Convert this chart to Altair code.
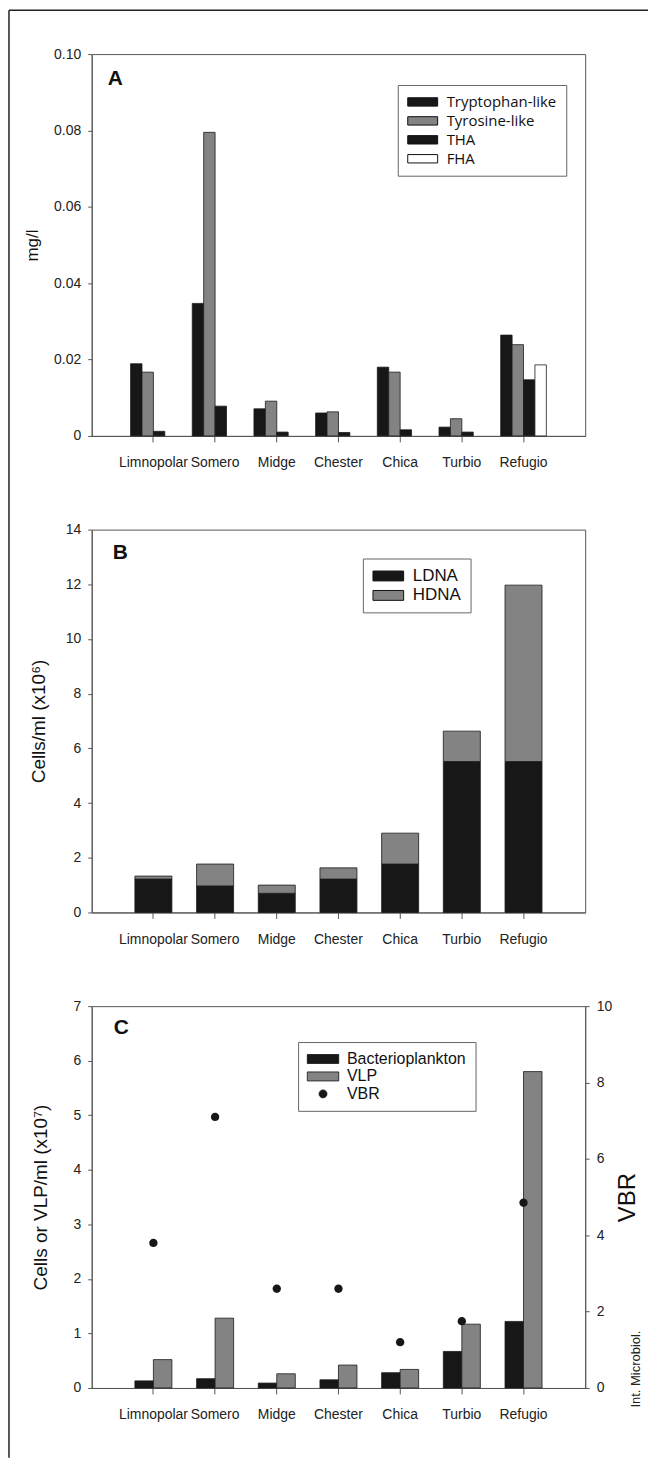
import altair as alt
import pandas as pd

# ---------------- data ----------------
sites = ["Limnopolar", "Somero", "Midge", "Chester", "Chica", "Turbio", "Refugio"]

# Panel A (mg/l)
a_series = ["Tryptophan-like", "Tyrosine-like", "THA", "FHA"]
tryptophan = [0.0189, 0.0347, 0.0071, 0.0060, 0.0180, 0.0023, 0.0264]
tyrosine = [0.0167, 0.0795, 0.0091, 0.0063, 0.0167, 0.0045, 0.0239]
tha = [0.0012, 0.0078, 0.0010, 0.0009, 0.0016, 0.0010, 0.0147]
fha = [0.0, 0.0, 0.0, 0.0, 0.0, 0.0, 0.0186]

# Panel B (cells/ml x10^6), stacked
b_series = ["LDNA", "HDNA"]
ldna = [1.22, 0.97, 0.70, 1.22, 1.77, 5.52, 5.52]
hdna = [0.11, 0.80, 0.30, 0.41, 1.13, 1.11, 6.45]

# Panel C (cells or VLP/ml x10^7) and VBR
c_series = ["Bacterioplankton", "VLP", "VBR"]
bacterio = [0.13, 0.17, 0.09, 0.15, 0.28, 0.67, 1.22]
vlp = [0.52, 1.28, 0.26, 0.42, 0.34, 1.17, 5.80]
vbr = [3.8, 7.1, 2.6, 2.6, 1.2, 1.75, 4.85]

# ---------------- tables ----------------
dfA = pd.DataFrame({
    "site": sites * 4,
    "series": [s for s in a_series for _ in sites],
    "value": tryptophan + tyrosine + tha + fha,
})
dfB = pd.DataFrame({
    "site": sites * 2,
    "series": [s for s in b_series for _ in sites],
    "ord": [i for i in range(2) for _ in sites],
    "value": ldna + hdna,
})
dfC = pd.DataFrame({
    "site": sites * 2,
    "series": [s for s in c_series[:2] for _ in sites],
    "value": bacterio + vlp,
})
dfV = pd.DataFrame({"site": sites, "series": ["VBR"] * len(sites), "vbr": vbr})

# ---------------- style ----------------
W, HA, HB, HC = 495, 383, 384, 383
BLACK = "#171717"
GRAY = "#838383"
EDGE = "#1c1c1c"
FONT_AX = "Liberation Sans, Arial, sans-serif"
FONT_T = "Liberation Sans, Arial, sans-serif"
SYM = 225  # legend symbol size (sqrt = 15 px per 2 path units)
RECT_A = "M-2,-0.56H2V0.56H-2Z"
RECT_B = "M-2.05,-0.66H2.05V0.66H-2.05Z"
RECT_C = "M-2.1,-0.6H2.1V0.6H-2.1Z"
CIRCLE = "M0.53,0A0.53,0.53 0 1,1 -0.53,0A0.53,0.53 0 1,1 0.53,0Z"
one = alt.Data(values=[{}])


def x_enc(pin, pout):
    return alt.X(
        "site:N", sort=sites, title=None,
        scale=alt.Scale(domain=sites, paddingInner=pin, paddingOuter=pout),
        axis=alt.Axis(labelAngle=0, labelFontSize=14, labelPadding=14, tickSize=6,
                      labelFont=FONT_AX, labelColor="#222"),
    )


def y_axis(values, title, title_x, h, fs, label_expr=None):
    kw = dict(values=values, title=title, titleX=title_x, titleY=h / 2, titleAngle=270,
              titleAlign="center", titleBaseline="middle", titleFontSize=fs,
              titleFont=FONT_T, titleFontWeight="normal", titleColor="#111",
              labelFontSize=14, labelFont=FONT_AX, labelColor="#222",
              tickSize=4, labelPadding=7)
    if label_expr:
        kw["labelExpr"] = label_expr
    return alt.Axis(**kw)


def legend(x, y, path, font, fs, row_pad, stroke_w=1):
    return alt.Legend(title=None, orient="none", legendX=x, legendY=y, symbolType=path,
                      symbolSize=SYM, symbolOffset=8, symbolStrokeColor="#111",
                      symbolStrokeWidth=stroke_w, labelFont=font, labelFontSize=fs,
                      labelColor="#111", labelOffset=16, rowPadding=row_pad, padding=9,
                      strokeColor="#666", fillColor="#ffffff")


def letter(t, x, y):
    return alt.Chart(one).mark_text(
        text=t, font=FONT_T, fontSize=21, fontWeight="bold", align="left",
        baseline="alphabetic", color="#111"
    ).encode(x=alt.value(x), y=alt.value(y))


# ---------------- panel A ----------------
legA = legend(307, 31, RECT_A, "Open Sans, Liberation Sans, sans-serif", 15, 3)

barsA = alt.Chart(dfA).transform_filter("datum.value > 0").mark_bar(
    stroke=EDGE, strokeWidth=0.8
).encode(
    x=x_enc(0.26, 0.63),
    xOffset=alt.XOffset("series:N", scale=alt.Scale(domain=a_series)),
    y=alt.Y("value:Q", scale=alt.Scale(domain=[0, 0.1], nice=False),
            axis=y_axis([0, 0.02, 0.04, 0.06, 0.08, 0.1], "mg/l", -59, HA, 17,
                        "datum.value == 0 ? '0' : format(datum.value, '.2f')")),
    color=alt.Color("series:N", scale=alt.Scale(domain=a_series,
                    range=[BLACK, GRAY, BLACK, "#ffffff"]), legend=legA),
)

frame_h = alt.Chart(one).mark_rule(color="#222", strokeWidth=1.5).encode(
    x=alt.value(-83), x2=alt.value(558), y=alt.value(-44))
frame_v = alt.Chart(one).mark_rule(color="#222", strokeWidth=1.5).encode(
    x=alt.value(-83), y=alt.value(-44), y2=alt.value(1408))

panelA = alt.layer(barsA, letter("A", 16, 31), frame_h, frame_v).properties(width=W, height=HA)

# ---------------- panel B ----------------
legB = legend(272, 29, RECT_B, FONT_AX, 17, 1.5)

barsB = alt.Chart(dfB).mark_bar(stroke=EDGE, strokeWidth=0.8).encode(
    x=x_enc(0.4, 0.7),
    y=alt.Y("value:Q", stack="zero", scale=alt.Scale(domain=[0, 14], nice=False),
            axis=y_axis(list(range(0, 15, 2)), "Cells/ml (x10\u2076)", -53, HB, 19)),
    color=alt.Color("series:N", scale=alt.Scale(domain=b_series, range=[BLACK, GRAY]),
                    legend=legB),
    order=alt.Order("ord:Q"),
)

panelB = alt.layer(barsB, letter("B", 21, 29)).properties(width=W, height=HB)

# ---------------- panel C ----------------
legC = legend(207, 36, RECT_C, FONT_AX, 16, 1.5, 0.8)
colC = alt.Scale(domain=c_series, range=[BLACK, GRAY, BLACK])

barsC = alt.Chart(dfC).mark_bar(stroke=EDGE, strokeWidth=0.8).encode(
    x=x_enc(0.4, 0.7),
    xOffset=alt.XOffset("series:N", scale=alt.Scale(domain=c_series[:2])),
    y=alt.Y("value:Q", scale=alt.Scale(domain=[0, 7], nice=False),
            axis=y_axis(list(range(0, 8)), "Cells or VLP/ml (x10\u2077)", -51, HC, 19)),
    color=alt.Color("series:N", scale=colC, legend=legC),
)

pointsC = alt.Chart(dfV).mark_point(filled=True, size=250, opacity=1).encode(
    x=alt.X("site:N", sort=sites),
    y=alt.Y("vbr:Q", scale=alt.Scale(domain=[0, 10], nice=False),
            axis=alt.Axis(orient="right", values=[0, 2, 4, 6, 8, 10], title="VBR",
                          titleX=42, titleY=HC / 2, titleAngle=270, titleAlign="center",
                          titleBaseline="middle", titleFontSize=24, titleFont=FONT_T,
                          titleFontWeight="normal", titleColor="#111",
                          labelFontSize=14, labelFont=FONT_AX, labelColor="#222",
                          tickSize=4, labelPadding=7)),
    color=alt.Color("series:N", scale=colC, legend=legC),
    shape=alt.Shape("series:N", scale=alt.Scale(domain=c_series,
                    range=[RECT_C, RECT_C, CIRCLE]), legend=legC),
)

credit = alt.Chart(one).mark_text(
    text="Int. Microbiol.", font=FONT_T, fontSize=13, angle=270, align="center",
    baseline="middle", color="#222"
).encode(x=alt.value(546), y=alt.value(364))

panelC = alt.layer(barsC, pointsC, letter("C", 22, 28), credit).resolve_scale(
    y="independent").properties(width=W, height=HC)

# ---------------- assemble ----------------
chart = alt.vconcat(panelA, panelB, panelC, spacing=94, bounds="flush").resolve_scale(
    x="independent", y="independent", color="independent", shape="independent",
    xOffset="independent"
).resolve_legend(color="independent", shape="independent").properties(
    padding={"left": 7, "top": 6, "right": 0, "bottom": 0},
    background="#ffffff",
).configure_view(stroke="#555", strokeWidth=1).configure_axis(
    domainColor="#555", tickColor="#555", grid=False
)

chart.save("out.html", embed_options={"renderer": "svg", "actions": False})
